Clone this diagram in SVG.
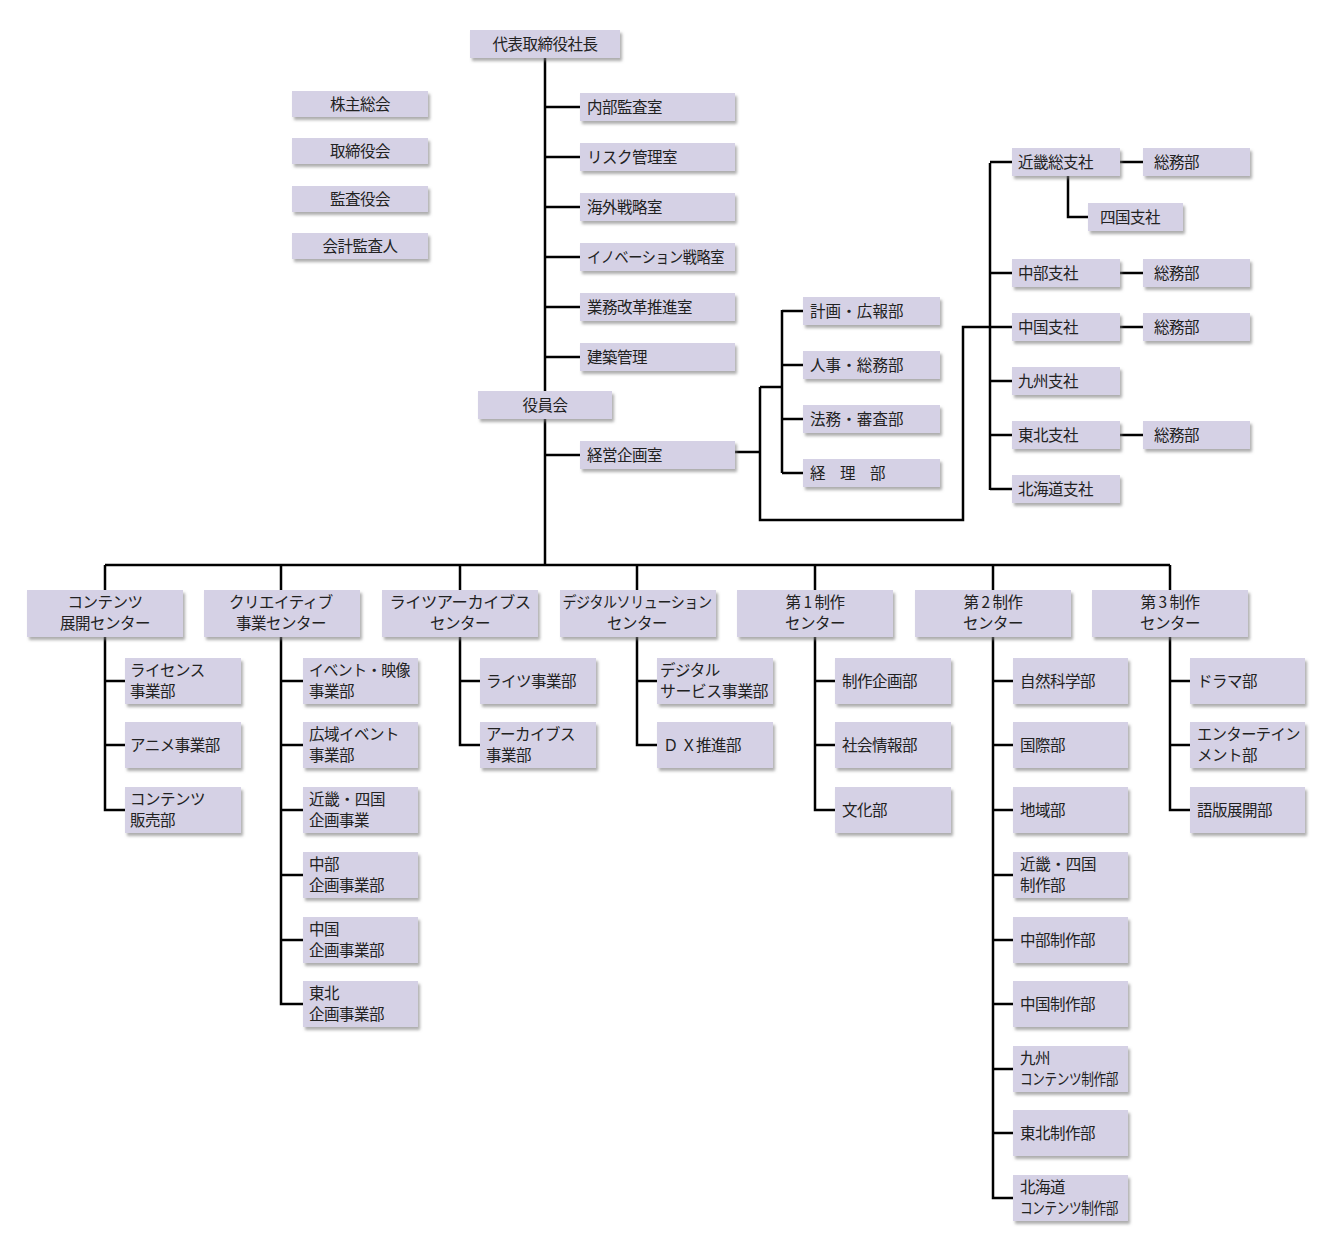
<svg xmlns="http://www.w3.org/2000/svg" width="1336" height="1253" viewBox="0 0 1336 1253">
<style>
rect{fill:#d5d1e5;filter:url(#sh)}
text{font-family:"Noto Sans CJK JP","Noto Sans",sans-serif;font-size:15.5px;letter-spacing:-0.5px;fill:#222}
.c{text-anchor:middle}
#conn path{fill:none;stroke:#000;stroke-width:2.5}
</style>
<defs><filter id="sh" x="-10%" y="-20%" width="130%" height="160%"><feDropShadow dx="2" dy="3" stdDeviation="1.5" flood-color="#777" flood-opacity="0.6"/></filter></defs>
<rect width="1336" height="1253" style="fill:#fff;filter:none"/>
<g id="conn">
<path d="M545 58V565M545 107H580M545 157H580M545 207H580M545 257H580M545 307H580M545 357H580M545 455H580"/>
<path d="M735 452H760M760 387V520H963V327H990M760 387H782M782 310V473M782 311H803M782 365H803M782 419H803M782 473H803"/>
<path d="M990 163V490M990 162H1012M990 273H1012M990 327H1012M990 381H1012M990 435H1012M990 489H1012M1120 162H1143M1120 273H1143M1120 327H1143M1120 435H1143M1068 176V217H1088"/>
<path d="M105 565H1170M105 565V590M281 565V590M460 565V590M637 565V590M815 565V590M993 565V590M1170 565V590"/>
<path d="M105 637V810H125M105 681H125M105 745H125"/>
<path d="M281 637V1004H303M281 681H303M281 745H303M281 810H303M281 875H303M281 940H303"/>
<path d="M460 637V745H480M460 681H480"/>
<path d="M637 637V745H657M637 681H657"/>
<path d="M815 637V810H835M815 681H835M815 745H835"/>
<path d="M993 637V1198H1013M993 681H1013M993 745H1013M993 810H1013M993 875H1013M993 940H1013M993 1004H1013M993 1069H1013M993 1133H1013"/>
<path d="M1170 637V810H1190M1170 681H1190M1170 745H1190"/>
</g>
<g id="ceo"><rect x="470" y="30" width="150" height="28"/><text class="c" x="545" y="50" font-size="17">代表取締役社長</text></g>
<g id="l1"><rect x="292" y="91" width="136" height="26"/><text class="c" x="360" y="110">株主総会</text></g>
<g id="l2"><rect x="292" y="138" width="136" height="26"/><text class="c" x="360" y="157">取締役会</text></g>
<g id="l3"><rect x="292" y="186" width="136" height="26"/><text class="c" x="360" y="205">監査役会</text></g>
<g id="l4"><rect x="292" y="233" width="136" height="26"/><text class="c" x="360" y="252">会計監査人</text></g>
<g id="s1"><rect x="580" y="93" width="155" height="28"/><text x="587" y="113">内部監査室</text></g>
<g id="s2"><rect x="580" y="143" width="155" height="28"/><text x="587" y="163">リスク管理室</text></g>
<g id="s3"><rect x="580" y="193" width="155" height="28"/><text x="587" y="213">海外戦略室</text></g>
<g id="s4"><rect x="580" y="243" width="155" height="28"/><text x="587" y="263" textLength="137" lengthAdjust="spacingAndGlyphs">イノベーション戦略室</text></g>
<g id="s5"><rect x="580" y="293" width="155" height="28"/><text x="587" y="313">業務改革推進室</text></g>
<g id="s6"><rect x="580" y="343" width="155" height="28"/><text x="587" y="363">建築管理</text></g>
<g id="yakuin"><rect x="478" y="391" width="134" height="28"/><text class="c" x="545" y="411">役員会</text></g>
<g id="keiei"><rect x="580" y="441" width="155" height="28"/><text x="587" y="461">経営企画室</text></g>
<g id="k1"><rect x="803" y="297" width="137" height="28"/><text x="810" y="317" textLength="93">計画・広報部</text></g>
<g id="k2"><rect x="803" y="351" width="137" height="28"/><text x="810" y="371" textLength="93">人事・総務部</text></g>
<g id="k3"><rect x="803" y="405" width="137" height="28"/><text x="810" y="425" textLength="93">法務・審査部</text></g>
<g id="k4"><rect x="803" y="459" width="137" height="28"/><text x="810" y="479" xml:space="preserve">経　理　部</text></g>
<g id="b1"><rect x="1012" y="148" width="108" height="28"/><text x="1018" y="168">近畿総支社</text></g>
<g id="b1s"><rect x="1088" y="203" width="95" height="28"/><text x="1100" y="223">四国支社</text></g>
<g id="b2"><rect x="1012" y="259" width="108" height="28"/><text x="1018" y="279">中部支社</text></g>
<g id="b3"><rect x="1012" y="313" width="108" height="28"/><text x="1018" y="333">中国支社</text></g>
<g id="b4"><rect x="1012" y="367" width="108" height="28"/><text x="1018" y="387">九州支社</text></g>
<g id="b5"><rect x="1012" y="421" width="108" height="28"/><text x="1018" y="441">東北支社</text></g>
<g id="b6"><rect x="1012" y="475" width="108" height="28"/><text x="1018" y="495">北海道支社</text></g>
<g id="g1"><rect x="1143" y="148" width="107" height="28"/><text x="1154" y="168">総務部</text></g>
<g id="g2"><rect x="1143" y="259" width="107" height="28"/><text x="1154" y="279">総務部</text></g>
<g id="g3"><rect x="1143" y="313" width="107" height="28"/><text x="1154" y="333">総務部</text></g>
<g id="g4"><rect x="1143" y="421" width="107" height="28"/><text x="1154" y="441">総務部</text></g>
<g id="c1"><rect x="27" y="590" width="156" height="47"/><text class="c" x="105" y="608">コンテンツ</text><text class="c" x="105" y="629">展開センター</text></g>
<g id="c2"><rect x="204" y="590" width="156" height="47"/><text class="c" x="281" y="608">クリエイティブ</text><text class="c" x="281" y="629">事業センター</text></g>
<g id="c3"><rect x="382" y="590" width="156" height="47"/><text class="c" x="460" y="608" textLength="141" lengthAdjust="spacingAndGlyphs">ライツアーカイブス</text><text class="c" x="460" y="629">センター</text></g>
<g id="c4"><rect x="560" y="590" width="156" height="47"/><text class="c" x="637" y="608" textLength="149" lengthAdjust="spacingAndGlyphs">デジタルソリューション</text><text class="c" x="637" y="629">センター</text></g>
<g id="c5"><rect x="737" y="590" width="156" height="47"/><text class="c" x="815" y="608">第 1 制作</text><text class="c" x="815" y="629">センター</text></g>
<g id="c6"><rect x="915" y="590" width="156" height="47"/><text class="c" x="993" y="608">第 2 制作</text><text class="c" x="993" y="629">センター</text></g>
<g id="c7"><rect x="1092" y="590" width="156" height="47"/><text class="c" x="1170" y="608">第 3 制作</text><text class="c" x="1170" y="629">センター</text></g>
<g id="d11"><rect x="125" y="658" width="116" height="46"/><text x="130" y="676">ライセンス</text><text x="130" y="697">事業部</text></g>
<g id="d12"><rect x="125" y="722" width="116" height="46"/><text x="130" y="751">アニメ事業部</text></g>
<g id="d13"><rect x="125" y="787" width="116" height="46"/><text x="130" y="805">コンテンツ</text><text x="130" y="826">販売部</text></g>
<g id="d21"><rect x="303" y="658" width="115" height="46"/><text x="309" y="676" textLength="101" lengthAdjust="spacingAndGlyphs">イベント・映像</text><text x="309" y="697">事業部</text></g>
<g id="d22"><rect x="303" y="722" width="115" height="46"/><text x="309" y="740">広域イベント</text><text x="309" y="761">事業部</text></g>
<g id="d23"><rect x="303" y="787" width="115" height="46"/><text x="309" y="805" textLength="76">近畿・四国</text><text x="309" y="826">企画事業</text></g>
<g id="d24"><rect x="303" y="852" width="115" height="46"/><text x="309" y="870">中部</text><text x="309" y="891">企画事業部</text></g>
<g id="d25"><rect x="303" y="917" width="115" height="46"/><text x="309" y="935">中国</text><text x="309" y="956">企画事業部</text></g>
<g id="d26"><rect x="303" y="981" width="115" height="46"/><text x="309" y="999">東北</text><text x="309" y="1020">企画事業部</text></g>
<g id="d31"><rect x="480" y="658" width="116" height="46"/><text x="486" y="687">ライツ事業部</text></g>
<g id="d32"><rect x="480" y="722" width="116" height="46"/><text x="486" y="740">アーカイブス</text><text x="486" y="761">事業部</text></g>
<g id="d41"><rect x="657" y="658" width="116" height="46"/><text x="660" y="676">デジタル</text><text x="660" y="697" textLength="108" lengthAdjust="spacingAndGlyphs">サービス事業部</text></g>
<g id="d42"><rect x="657" y="722" width="116" height="46"/><text x="663" y="751">Ｄ Ｘ推進部</text></g>
<g id="d51"><rect x="835" y="658" width="116" height="46"/><text x="842" y="687">制作企画部</text></g>
<g id="d52"><rect x="835" y="722" width="116" height="46"/><text x="842" y="751">社会情報部</text></g>
<g id="d53"><rect x="835" y="787" width="116" height="46"/><text x="842" y="816">文化部</text></g>
<g id="d61"><rect x="1013" y="658" width="115" height="46"/><text x="1020" y="687">自然科学部</text></g>
<g id="d62"><rect x="1013" y="722" width="115" height="46"/><text x="1020" y="751">国際部</text></g>
<g id="d63"><rect x="1013" y="787" width="115" height="46"/><text x="1020" y="816">地域部</text></g>
<g id="d64"><rect x="1013" y="852" width="115" height="46"/><text x="1020" y="870" textLength="76">近畿・四国</text><text x="1020" y="891">制作部</text></g>
<g id="d65"><rect x="1013" y="917" width="115" height="46"/><text x="1020" y="946">中部制作部</text></g>
<g id="d66"><rect x="1013" y="981" width="115" height="46"/><text x="1020" y="1010">中国制作部</text></g>
<g id="d67"><rect x="1013" y="1046" width="115" height="46"/><text x="1020" y="1064">九州</text><text x="1020" y="1085" font-size="14" textLength="98" lengthAdjust="spacingAndGlyphs">コンテンツ制作部</text></g>
<g id="d68"><rect x="1013" y="1110" width="115" height="46"/><text x="1020" y="1139">東北制作部</text></g>
<g id="d69"><rect x="1013" y="1175" width="115" height="46"/><text x="1020" y="1193">北海道</text><text x="1020" y="1214" font-size="14" textLength="98" lengthAdjust="spacingAndGlyphs">コンテンツ制作部</text></g>
<g id="d71"><rect x="1190" y="658" width="115" height="46"/><text x="1197" y="687">ドラマ部</text></g>
<g id="d72"><rect x="1190" y="722" width="115" height="46"/><text x="1197" y="740" textLength="103" lengthAdjust="spacingAndGlyphs">エンターテイン</text><text x="1197" y="761">メント部</text></g>
<g id="d73"><rect x="1190" y="787" width="115" height="46"/><text x="1197" y="816">語版展開部</text></g>
</svg>
